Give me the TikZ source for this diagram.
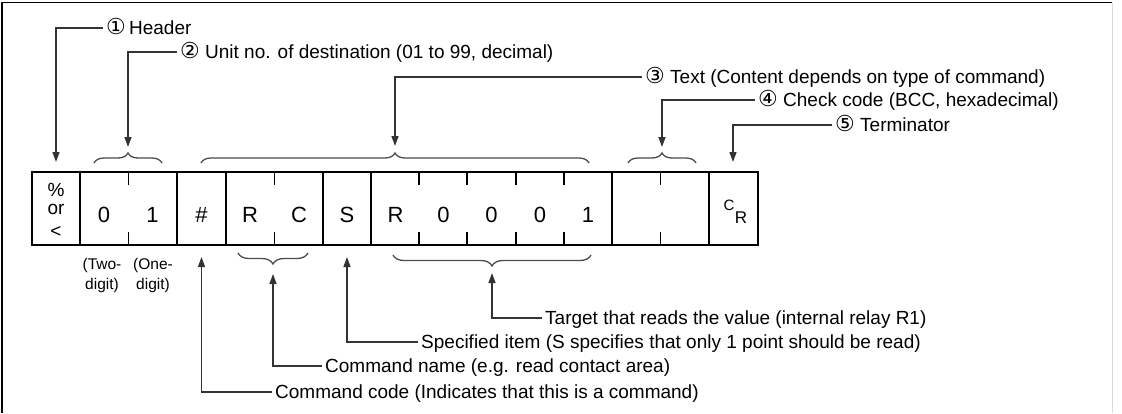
\documentclass[tikz,border=0pt]{standalone}
\usepackage{fontspec}
\setmainfont{Liberation Sans}
\newfontfamily\circfnt{DejaVu Sans}
\newcommand{\cnum}[1]{{\circfnt\fontsize{22}{22}\selectfont #1}}
\usetikzlibrary{arrows.meta,decorations.pathreplacing,calc}
\begin{document}
\begin{tikzpicture}[x=1pt,y=-1pt,
  cell/.style={draw=black,line width=1.8pt,minimum height=73pt,inner sep=0pt},
  ctext/.style={font=\fontsize{22}{22}\selectfont,inner sep=0pt,anchor=base},
  tick/.style={draw=black,line width=1.8pt},
  brc/.style={draw=black!70,line width=1.3pt,decorate,decoration={brace,amplitude=10pt,aspect=0.5}},
  brcm/.style={brc,decoration={brace,mirror,amplitude=11pt,aspect=0.5}},
  conn/.style={draw=black!80,line width=1.4pt},
  arr/.style={-{Triangle[length=10pt,width=7pt]}},
  lbl/.style={font=\fontsize{19}{20}\selectfont,anchor=west,inner xsep=3pt,inner ysep=0pt,text height=13.5pt,text depth=0pt},
  small/.style={font=\fontsize{15.5}{20}\selectfont,inner sep=0pt,align=center},
]
\useasboundingbox (0,0) rectangle (1122,413);
% frame
\draw[black,line width=1.6pt] (2,413) -- (2,2.5) -- (1112,2.5);
\draw[black!15,line width=1pt] (1112,2.5) -- (1112,413);
% cells
\node[cell,minimum width=48pt] (c1) at (56,208.5) {};
\node[cell,minimum width=97pt] (c2) at (128.5,208.5) {};
\node[cell,minimum width=49pt] (c3) at (201.5,208.5) {};
\node[cell,minimum width=97pt] (c4) at (274.5,208.5) {};
\node[cell,minimum width=48pt] (c5) at (347,208.5) {};
\node[cell,minimum width=241pt] (c6) at (491.5,208.5) {};
\node[cell,minimum width=97pt] (c7) at (660.5,208.5) {};
\node[cell,minimum width=49pt] (c8) at (733.5,208.5) {};
% ticks
\foreach \c/\f in {c2/0.5,c4/0.5,c7/0.5,c6/0.2,c6/0.4,c6/0.6,c6/0.8}{
  \draw[tick] ($(\c.north west)!\f!(\c.north east)$) -- ++(0,14);
  \draw[tick] ($(\c.south west)!\f!(\c.south east)$) -- ++(0,-14);
}
% cell texts
\node[ctext,font=\fontsize{19}{19}\selectfont] (pct) at (56,196) {\%};
\node[ctext,font=\fontsize{19}{19}\selectfont] (orw) at (56,214) {or};
\node[ctext,font=\fontsize{19}{19}\selectfont] (lt) at (56,237) {<};
\node[ctext] (d0) at (104,222) {0};
\node[ctext] (d1) at (152.5,222) {1};
\node[ctext] (hash) at (201.5,222) {\#};
\node[ctext] (rr) at (250,222) {R};
\node[ctext] (cc) at (299,222) {C};
\node[ctext] (ss) at (347,222) {S};
\node[ctext] (r2) at (395.5,222) {R};
\node[ctext] (z1) at (443.5,222) {0};
\node[ctext] (z2) at (491.5,222) {0};
\node[ctext] (z3) at (540,222) {0};
\node[ctext] (o1) at (588,222) {1};
\node[font=\fontsize{15}{15}\selectfont,inner sep=0pt,anchor=base] (crc) at (729,210) {C};
\node[font=\fontsize{17}{17}\selectfont,inner sep=0pt,anchor=base] (crr) at (741,223.5) {R};
% small texts
\node[small] (two) at (102,275) {(Two-\\digit)};
\node[small] (one) at (153,275) {(One-\\digit)};
% braces
\draw[brc] (94,163) -- (162,163);
\draw[brc] (201,163) -- (589,163);
\draw[brc] (628,163) -- (696,163);
\draw[brcm] (238,253) -- (308,253);
\draw[brcm] (393,255) -- (591,255);
\coordinate (bt1) at (128,153);
\coordinate (bt2) at (395,153);
\coordinate (bt3) at (662,153);
\coordinate (bb1) at (273,264);
\coordinate (bb2) at (492,266);
\coordinate (th) at (56,162);
\coordinate (tt) at (733,162);
\coordinate (bh) at (201.5,257);
\coordinate (bs) at (347,257);
% labels
\node[lbl] (L1) at (103,28) {\cnum{①}\,Header};
\node[lbl] (L2) at (177,52) {\cnum{②} Unit no. of destination (01 to 99, decimal)};
\node[lbl] (L3) at (642,77) {\cnum{③} Text (Content depends on type of command)};
\node[lbl] (L4) at (755,100) {\cnum{④} Check code (BCC, hexadecimal)};
\node[lbl] (L5) at (832,125) {\cnum{⑤} Terminator};
\node[lbl] (B1) at (542,318) {Target that reads the value (internal relay R1)};
\node[lbl] (B2) at (418,342) {Specified item (S specifies that only 1 point should be read)};
\node[lbl] (B3) at (322,366) {Command name (e.g. read contact area)};
\node[lbl] (B4) at (272,392) {Command code (Indicates that this is a command)};
% connectors
\draw[conn,arr] (L1.west) -| (th);
\draw[conn,arr,shorten >=6pt] (L2.west) -| (bt1);
\draw[conn,arr,shorten >=7pt] (L3.west) -| (bt2);
\draw[conn,arr,shorten >=6pt] (L4.west) -| (bt3);
\draw[conn,arr] (L5.west) -| (tt);
\draw[conn,arr,shorten >=7pt] (B1.west) -| (bb2);
\draw[conn,arr] (B2.west) -| (bs);
\draw[conn,arr,shorten >=10pt] (B3.west) -| (bb1);
\draw[conn,arr] (B4.west) -| (bh);
\end{tikzpicture}
\end{document}
